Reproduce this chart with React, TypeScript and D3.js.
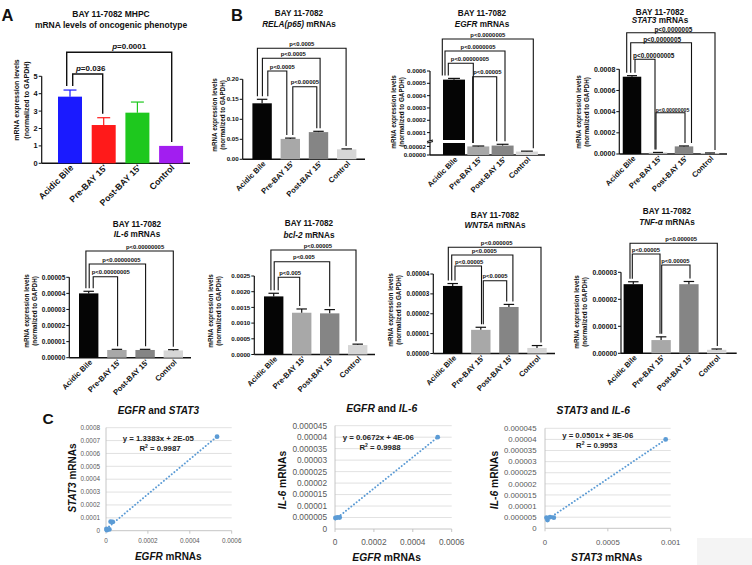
import React from "react";
import * as d3 from "d3";

const FONT = "'Liberation Sans', Arial, sans-serif";

const groups = ["Acidic Bile", "Pre-BAY 15'", "Post-BAY 15'", "Control"];
const grays = ["#050505", "#a8a8a8", "#858585", "#d6d6d6"];

// ---------- Panel A
const aValues = [3.83, 2.2, 2.91, 1.0];
const aErrors = [0.38, 0.42, 0.61, 0];
const aTicks = [0, 1, 2, 3, 4, 5];
const aColors = ["#1a1aff", "#ff1a1a", "#1ec81e", "#a21ef0"];
const aPairs = [[0, 1], [0, 3]];
const aP = ["p=0.036", "p=0.0001"];

// ---------- RELA(p65)
const relaValues = [0.14, 0.051, 0.068, 0.025];
const relaErrors = [0.01, 0.002, 0.002, 0.001];
const relaTicks = [0, 0.05, 0.1, 0.15, 0.2];
const relaPairs = [[0, 3], [0, 2], [0, 1], [1, 2]];
const relaP = ["p<0.0005", "p<0.0005", "p<0.0005", "p<0.00005"];

// ---------- EGFR (broken axis)
const egfrValues = [0.00053, 0.00002, 0.000022, 0.000008];
const egfrErrors = [0.00001, 0.000001, 0.000003, 0.000001];
const egfrHighTicks = [0.0001, 0.0002, 0.0003, 0.0004, 0.0005, 0.0006];
const egfrHighLabels = ["0.0001", "0.0002", "0.0003", "0.0004", "0.0005", "0.0006"];
const egfrLowTicks = [0, 0.00002];
const egfrLowLabels = ["0.00000", "0.00002"];
const egfrPairs = [[0, 3], [0, 2], [0, 1], [1, 2]];
const egfrP = ["p<0.0000005", "p<0.0000005", "p<0.00000005", "p<0.00005"];

// ---------- STAT3
const stat3Values = [0.00073, 0.000012, 0.000072, 0.000008];
const stat3Errors = [0.00001, 0.000003, 0.000004, 0.000002];
const stat3Ticks = [0, 0.0002, 0.0004, 0.0006, 0.0008];
const stat3Pairs = [[0, 3], [0, 2], [0, 1], [1, 2]];
const stat3P = ["p<0.0000005", "p<0.0000005", "p<0.00000005", "p<0.00000005"];

// ---------- IL-6
const il6Values = [0.00004, 0.0000048, 0.0000048, 0.0000045];
const il6Errors = [0.0000013, 0.0000004, 0.0000004, 0.0000005];
const il6Ticks = [0, 0.00001, 0.00002, 0.00003, 0.00004, 0.00005];
const il6Pairs = [[0, 3], [0, 2], [0, 1]];
const il6P = ["p<0.00000005", "p<0.00000005", "p<0.00000005"];

// ---------- bcl-2
const bclValues = [0.00185, 0.00133, 0.00131, 0.0003];
const bclErrors = [0.0001, 0.00012, 0.00012, 0.00003];
const bclTicks = [0, 0.0005, 0.001, 0.0015, 0.002, 0.0025];
const bclPairs = [[0, 3], [0, 2], [0, 1]];
const bclP = ["p<0.00005", "p<0.005", "p<0.005"];

// ---------- WNT5A
const wntValues = [0.000034, 0.0000119, 0.0000234, 0.0000028];
const wntErrors = [0.0000012, 0.0000013, 0.0000013, 0.0000012];
const wntTicks = [0, 0.00001, 0.00002, 0.00003, 0.00004];
const wntPairs = [[0, 3], [0, 2], [0, 1], [1, 2]];
const wntP = ["p<0.000005", "p<0.0005", "p<0.00005", "p<0.0005"];

// ---------- TNF-α
const tnfValues = [0.0000256, 0.0000049, 0.0000256, 0.0000013];
const tnfErrors = [0.0000009, 0.0000012, 0.000001, 0.0000003];
const tnfTicks = [0, 0.00001, 0.00002, 0.00003];
const tnfPairs = [[0, 3], [0, 1], [1, 2]];
const tnfP = ["p<0.000005", "p<0.00005", "p<0.00005"];

// ---------- Scatter data
const s1Points = [[0.00053, 0.00073], [0.000022, 0.00007], [0.000032, 0.000068], [0.000002, 0.000014], [0.000004, 0.000004], [0.000016, 0.00001]];
const s1XTicks = [0, 0.0002, 0.0004, 0.0006];
const s1YTicks = [0, 0.0001, 0.0002, 0.0003, 0.0004, 0.0005, 0.0006, 0.0007, 0.0008];
const s2Points = [[0.000528, 0.00004], [0.000002, 0.0000048], [0.000012, 0.000005], [0.000024, 0.000005]];
const s2XTicks = [0, 0.0002, 0.0004, 0.0006];
const s2YTicks = [0, 0.000005, 0.00001, 0.000015, 0.00002, 0.000025, 0.00003, 0.000035, 0.00004, 0.000045];
const s3Points = [[0.00096, 0.00004], [0.00002, 0.0000037], [0.000012, 0.0000048], [0.00004, 0.000005], [0.00007, 0.0000048]];
const s3XTicks = [0, 0.0005, 0.001];
const s3YTicks = [0, 0.000005, 0.00001, 0.000015, 0.00002, 0.000025, 0.00003, 0.000035, 0.00004, 0.000045];

const numLabel = (v: number) => (v === 0 ? "0" : String(+v.toFixed(7)));

type BrL = { top: number; dl: number; dr: number; anchor: "start" | "middle"; tx: number; fs?: number };

function BarPanel({ c }: { c: any }) {
  const L = c.L;
  const x = d3.scalePoint<string>().domain(groups).range([L.ax + L.c0, L.ax + L.c0 + 3 * L.step]);
  const ymax = c.brk ? c.brk.hiTicks[c.brk.hiTicks.length - 1] : c.ticks[c.ticks.length - 1];
  const yHi = d3.scaleLinear().domain([c.brk ? c.brk.hiMin : 0, ymax]).range([c.brk ? c.brk.hiBottom : L.y0, L.yTop]);
  const yLo = c.brk ? d3.scaleLinear().domain([0, c.brk.lowMax]).range([L.y0, c.brk.lowTop]) : null;
  const Y = (v: number) => (c.brk && v <= c.brk.lowMax ? (yLo as any)(v) : yHi(v));
  const bw = L.bw;
  const ink = "#111";
  const ticks: { v: number; y: number; s: string }[] = [];
  if (c.brk) {
    c.brk.lowTicks.forEach((v: number, i: number) => ticks.push({ v, y: (yLo as any)(v), s: c.brk.lowLabels[i] }));
    c.brk.hiTicks.forEach((v: number, i: number) => ticks.push({ v, y: yHi(v), s: c.brk.hiLabels[i] }));
  } else {
    c.ticks.forEach((v: number) => ticks.push({ v, y: yHi(v), s: c.fmt(v) }));
  }
  return (
    <g fontFamily={FONT} fill={ink}>
      <text x={L.tx} y={L.t1} textAnchor="middle" fontSize={L.tfs} fontWeight="bold">{c.title1}</text>
      <text x={L.tx} y={L.t2} textAnchor="middle" fontSize={L.tfs} fontWeight="bold">
        {c.title2.map((t: any, i: number) => (
          <tspan key={i} fontStyle={t[1] ? "italic" : "normal"}>{t[0]}</tspan>
        ))}
      </text>
      <g transform={`translate(${L.ylx},${L.yly}) rotate(-90)`}>
        <text x={0} y={0} textAnchor="middle" fontSize={L.ylfs} fontWeight="bold">mRNA expression levels</text>
        <text x={0} y={L.ylgap} textAnchor="middle" fontSize={L.ylfs} fontWeight="bold">(normalized to GAPDH)</text>
      </g>
      {c.brk ? (
        <g stroke={ink} strokeWidth={1.2}>
          <line x1={L.ax} x2={L.ax} y1={L.y0} y2={c.brk.lowTop - 1} />
          <line x1={L.ax} x2={L.ax} y1={c.brk.hiBottom + 1} y2={L.yTop} />
          <line x1={L.ax - 3} x2={L.ax + 3} y1={c.brk.lowTop} y2={c.brk.lowTop - 1.5} />
          <line x1={L.ax - 3} x2={L.ax + 3} y1={c.brk.hiBottom + 1.5} y2={c.brk.hiBottom} />
        </g>
      ) : (
        <line x1={L.ax} x2={L.ax} y1={L.y0} y2={L.yTop} stroke={ink} strokeWidth={1.2} />
      )}
      <line x1={L.ax} x2={L.xEnd} y1={L.y0} y2={L.y0} stroke={ink} strokeWidth={1.4} />
      {ticks.map((t, i) => (
        <g key={i}>
          <line x1={L.ax - 3} x2={L.ax} y1={t.y} y2={t.y} stroke={ink} strokeWidth={1} />
          <text x={L.ax - 4} y={t.y + L.kfs * 0.35} textAnchor="end" fontSize={L.kfs} fontWeight="bold">{t.s}</text>
        </g>
      ))}
      {c.values.map((v: number, i: number) => {
        const cx = x(groups[i]) as number;
        const col = c.colors[i];
        const e = c.errors[i];
        const errCol = c.errColor === "bar" ? col : "#111";
        const parts =
          c.brk && v > c.brk.lowMax
            ? [
                [c.brk.lowTop, L.y0],
                [Y(v), c.brk.hiBottom],
              ]
            : [[Y(v), L.y0]];
        return (
          <g key={i}>
            {parts.map((p: number[], k: number) => (
              <rect key={k} x={cx - bw / 2} y={p[0]} width={bw} height={p[1] - p[0]} fill={col} />
            ))}
            {e > 0 && (
              <g stroke={errCol} strokeWidth={1.2}>
                <line x1={cx} x2={cx} y1={Y(v)} y2={Y(v + e)} />
                <line x1={cx - bw * 0.27} x2={cx + bw * 0.27} y1={Y(v + e)} y2={Y(v + e)} />
              </g>
            )}
          </g>
        );
      })}
      {groups.map((g) => (
        <text
          key={g}
          transform={`translate(${(x(g) as number) + L.xlx},${L.y0 + L.xly}) rotate(-45)`}
          textAnchor="end"
          fontSize={L.xfs}
          fontWeight="bold"
        >
          {g}
        </text>
      ))}
      {c.pairs.map((pr: number[], i: number) => {
        const b: BrL = c.brs[i];
        const la = (x(groups[pr[0]]) as number) + b.dl;
        const ra = (x(groups[pr[1]]) as number) + b.dr;
        const lb = Y(c.values[pr[0]] + c.errors[pr[0]]) - L.gap;
        const rb = Y(c.values[pr[1]] + c.errors[pr[1]]) - L.gap;
        const tx = b.anchor === "middle" ? (la + ra) / 2 + b.tx : la + b.tx;
        const lab: string = c.plabels[i];
        return (
          <g key={i}>
            <path d={`M${la},${lb}V${b.top}H${ra}V${rb}`} fill="none" stroke={ink} strokeWidth={L.bsw} />
            <text x={tx} y={b.top - L.lgap} textAnchor={b.anchor} fontSize={b.fs || L.bfs} fontWeight="bold">
              {lab.startsWith("p=") ? (
                <>
                  <tspan fontStyle="italic">p</tspan>
                  {lab.slice(1)}
                </>
              ) : (
                lab
              )}
            </text>
          </g>
        );
      })}
    </g>
  );
}

function Scatter({ c }: { c: any }) {
  const L = c.L;
  const x = d3.scaleLinear().domain([0, c.xTicks[c.xTicks.length - 1]]).range([L.x0, L.x1]);
  const y = d3.scaleLinear().domain([0, c.yTicks[c.yTicks.length - 1]]).range([L.y0, L.y1]);
  const pts: number[][] = c.pts;
  const mx = d3.mean(pts, (p) => p[0]) as number;
  const my = d3.mean(pts, (p) => p[1]) as number;
  const sxy = d3.sum(pts, (p) => (p[0] - mx) * (p[1] - my));
  const sxx = d3.sum(pts, (p) => (p[0] - mx) * (p[0] - mx));
  const slope = sxy / sxx;
  const icpt = my - slope * mx;
  const [xmin, xmax] = d3.extent(pts, (p) => p[0]) as [number, number];
  const trend = d3.line()([
    [x(xmin), y(icpt + slope * xmin)],
    [x(xmax), y(icpt + slope * xmax)],
  ]) as string;
  const blue = "#5b9bd5";
  const grayTxt = "#595959";
  return (
    <g fontFamily={FONT}>
      <text x={L.tx} y={L.ty} textAnchor="middle" fontSize={L.tfs} fontWeight="bold" fill="#111">
        <tspan fontStyle="italic">{c.gx}</tspan> and <tspan fontStyle="italic">{c.gy}</tspan>
      </text>
      {c.yTicks.map((v: number, i: number) => (
        <g key={i}>
          {i > 0 && <line x1={L.x0} x2={L.x1} y1={y(v)} y2={y(v)} stroke="#d9d9d9" strokeWidth={0.8} />}
          <text x={L.x0 - L.ylg} y={y(v) + L.kfs * 0.35} textAnchor="end" fontSize={L.kfs} fill={grayTxt}>
            {numLabel(v)}
          </text>
        </g>
      ))}
      <line x1={L.x0} x2={L.x0} y1={L.y0} y2={L.y1} stroke="#bfbfbf" strokeWidth={0.9} />
      <line x1={L.x0} x2={L.x1} y1={L.y0} y2={L.y0} stroke="#bfbfbf" strokeWidth={0.9} />
      {c.xTicks.map((v: number, i: number) => (
        <g key={i}>
          <line x1={x(v)} x2={x(v)} y1={L.y0} y2={L.y0 + 3} stroke="#bfbfbf" strokeWidth={0.9} />
          <text x={x(v)} y={L.xly} textAnchor="middle" fontSize={L.kfs} fill={grayTxt}>
            {numLabel(v)}
          </text>
        </g>
      ))}
      <path d={trend} fill="none" stroke={blue} strokeWidth={1.9} strokeDasharray="0.1 3.3" strokeLinecap="round" />
      {pts.map((p, i) => (
        <circle key={i} cx={x(p[0])} cy={y(p[1])} r={2.4} fill={blue} />
      ))}
      <text x={L.ex} y={L.ey} textAnchor="middle" fontSize={L.efs} fontWeight="bold" fill="#222">{c.eq}</text>
      <text x={L.rx} y={L.ey + L.efs * 1.3} textAnchor="middle" fontSize={L.efs} fontWeight="bold" fill="#222">
        R<tspan baselineShift="super" fontSize={L.efs * 0.65}>2</tspan> = {c.r2}
      </text>
      <text x={L.xtx} y={L.xty} textAnchor="middle" fontSize={L.afs} fontWeight="bold" fill="#111">
        <tspan fontStyle="italic">{c.gx}</tspan> mRNAs
      </text>
      <text transform={`translate(${L.ytx},${L.yty}) rotate(-90)`} textAnchor="middle" fontSize={L.afs} fontWeight="bold" fill="#111">
        <tspan fontStyle="italic">{c.gy}</tspan> mRNAs
      </text>
    </g>
  );
}

const base = { bw: 19.4, c0: 19.4, step: 28.2, tfs: 8.2, ylfs: 6.3, ylgap: 8, kfs: 6.2, xfs: 7.6, xlx: 4, xly: 5, bfs: 5.9, bsw: 1.1, gap: 3, lgap: 2.5 };

const panels: any[] = [
  {
    values: aValues, errors: aErrors, colors: aColors, errColor: "bar", ticks: aTicks, fmt: d3.format("d"),
    pairs: aPairs, plabels: aP, title1: "BAY 11-7082 MHPC", title2: [["mRNA levels of oncogenic phenotype", false]],
    L: { ...base, ax: 41.7, y0: 163.3, yTop: 76.3, c0: 28.3, step: 33.7, bw: 24, xEnd: 190, tx: 111, t1: 17, t2: 28, tfs: 8.5,
      ylx: 19, yly: 100, ylfs: 7, ylgap: 10, kfs: 7.4, xfs: 8.8, bfs: 8, lgap: 3, gap: 4, bsw: 1.4 },
    brs: [
      { top: 74, dl: 2.7, dr: -1, anchor: "middle", tx: 3 },
      { top: 52.3, dl: -3.3, dr: 0.6, anchor: "middle", tx: 10 },
    ],
  },
  {
    values: relaValues, errors: relaErrors, colors: grays, ticks: relaTicks, fmt: d3.format(".2f"),
    pairs: relaPairs, plabels: relaP, title1: "BAY 11-7082", title2: [["RELA(p65)", true], [" mRNAs", false]],
    L: { ...base, ax: 242.7, y0: 159.3, yTop: 79.3, xEnd: 365, tx: 299, t1: 16, t2: 26.5, ylx: 216.5, yly: 115 },
    brs: [
      { top: 48.3, dl: -4.7, dr: -0.6, anchor: "middle", tx: 0 },
      { top: 58.3, dl: 0.3, dr: 1.6, anchor: "middle", tx: 2 },
      { top: 71, dl: 5.7, dr: -3.5, anchor: "start", tx: 2 },
      { top: 86.7, dl: 2.5, dr: -1.7, anchor: "middle", tx: 0 },
    ],
  },
  {
    values: egfrValues, errors: egfrErrors, colors: grays, ticks: [],
    brk: { lowMax: 0.000028, lowTop: 143, hiMin: 0.00004, hiBottom: 140, lowTicks: egfrLowTicks, lowLabels: egfrLowLabels, hiTicks: egfrHighTicks, hiLabels: egfrHighLabels },
    pairs: egfrPairs, plabels: egfrP, title1: "BAY 11-7082", title2: [["EGFR", true], [" mRNAs", false]],
    L: { ...base, ax: 430, y0: 155, yTop: 71, c0: 24, step: 24.3, bw: 22, xEnd: 545, tx: 482, t1: 16, t2: 26.5, ylx: 395.5, yly: 112 },
    brs: [
      { top: 39, dl: -11.7, dr: 6.4, anchor: "middle", tx: 0 },
      { top: 51, dl: -9, dr: 2.4, anchor: "middle", tx: 3 },
      { top: 63.3, dl: -5.7, dr: -5, anchor: "start", tx: 2.5 },
      { top: 76.7, dl: -5.6, dr: -5.9, anchor: "start", tx: 0.5 },
    ],
  },
  {
    values: stat3Values, errors: stat3Errors, colors: grays, ticks: stat3Ticks, fmt: d3.format(".4f"),
    pairs: stat3Pairs, plabels: stat3P, title1: "BAY 11-7082", title2: [["STAT3", true], [" mRNAs", false]],
    L: { ...base, ax: 619.3, y0: 154, yTop: 69.3, c0: 12.7, step: 26, bw: 18.5, xEnd: 727, tx: 660, t1: 14.5, t2: 23.3, kfs: 7, ylx: 580.5, yly: 112, bfs: 6.4, lgap: 1 },
    brs: [
      { top: 32.7, dl: -5.3, dr: 5, anchor: "middle", tx: 2.5 },
      { top: 42.7, dl: -1.3, dr: 7.5, anchor: "middle", tx: 1 },
      { top: 59.3, dl: 3, dr: -3, anchor: "start", tx: -2 },
      { top: 112.7, dl: -2, dr: 1, anchor: "middle", tx: 2, fs: 5.2 },
    ],
  },
  {
    values: il6Values, errors: il6Errors, colors: grays, ticks: il6Ticks, fmt: d3.format(".5f"),
    pairs: il6Pairs, plabels: il6P, title1: "BAY 11-7082", title2: [["IL-6", true], [" mRNAs", false]],
    L: { ...base, ax: 69.3, y0: 357.7, yTop: 277.3, xEnd: 191, tx: 137, t1: 227, t2: 237, kfs: 6.5, ylx: 29, yly: 311 },
    brs: [
      { top: 251, dl: -2.8, dr: 0, anchor: "middle", tx: 15.5 },
      { top: 264, dl: 0.5, dr: 0.5, anchor: "middle", tx: 4 },
      { top: 276.7, dl: 4.5, dr: 0.7, anchor: "start", tx: -1.5 },
    ],
  },
  {
    values: bclValues, errors: bclErrors, colors: grays, ticks: bclTicks, fmt: d3.format(".4f"),
    pairs: bclPairs, plabels: bclP, title1: "BAY 11-7082", title2: [["bcl-2", true], [" mRNAs", false]],
    L: { ...base, ax: 254.3, y0: 354.5, yTop: 276, step: 28, xEnd: 375, tx: 309, t1: 226, t2: 237.5, ylx: 212.5, yly: 311 },
    brs: [
      { top: 250, dl: -2.8, dr: -1.7, anchor: "middle", tx: 4.5 },
      { top: 261.7, dl: 0.5, dr: 0, anchor: "middle", tx: 2 },
      { top: 277.3, dl: 4.5, dr: -2, anchor: "start", tx: 1 },
    ],
  },
  {
    values: wntValues, errors: wntErrors, colors: grays, ticks: wntTicks, fmt: d3.format(".5f"),
    pairs: wntPairs, plabels: wntP, title1: "BAY 11-7082", title2: [["WNT5A", true], [" mRNAs", false]],
    L: { ...base, ax: 433.3, y0: 353.5, yTop: 274, step: 28.1, xEnd: 555, tx: 495, t1: 218.3, t2: 227.5, kfs: 6.3, ylx: 392.5, yly: 310 },
    brs: [
      { top: 247.3, dl: -4.4, dr: 4, anchor: "middle", tx: 2 },
      { top: 255, dl: -1, dr: 4, anchor: "middle", tx: 2 },
      { top: 266, dl: 2.3, dr: 0.7, anchor: "start", tx: 0 },
      { top: 280.7, dl: 2.5, dr: -2.2, anchor: "middle", tx: 0 },
    ],
  },
  {
    values: tnfValues, errors: tnfErrors, colors: grays, ticks: tnfTicks, fmt: d3.format(".5f"),
    pairs: tnfPairs, plabels: tnfP, title1: "BAY 11-7082", title2: [["TNF-α", true], ["  mRNAs", false]],
    L: { ...base, ax: 621, y0: 353.3, yTop: 272.3, c0: 12.3, step: 27.8, xEnd: 736.7, tx: 667, t1: 214, t2: 225, kfs: 6.8, ylx: 579, yly: 312 },
    brs: [
      { top: 243.3, dl: -3.3, dr: 0.6, anchor: "middle", tx: 7.5 },
      { top: 254, dl: -1, dr: -1.1, anchor: "start", tx: -0.5 },
      { top: 265, dl: 0.6, dr: 1.1, anchor: "start", tx: -0.5 },
    ],
  },
];

const scatters: any[] = [
  {
    pts: s1Points, xTicks: s1XTicks, yTicks: s1YTicks, gx: "EGFR", gy: "STAT3", eq: "y = 1.3383x + 2E-05", r2: "0.9987",
    L: { x0: 106, x1: 231.7, y0: 530.7, y1: 427.7, kfs: 6.4, ylg: 6, xly: 542.5, tx: 158.3, ty: 414, tfs: 10, ex: 158.3, ey: 441, rx: 160, efs: 7.8,
      xtx: 168.3, xty: 559.5, ytx: 75.5, yty: 478, afs: 10 },
  },
  {
    pts: s2Points, xTicks: s2XTicks, yTicks: s2YTicks, gx: "EGFR", gy: "IL-6", eq: "y = 0.0672x + 4E-06", r2: "0.9988",
    L: { x0: 335, x1: 451.7, y0: 529, y1: 425.7, kfs: 8.3, ylg: 8, xly: 544.5, tx: 381.7, ty: 412, tfs: 10.3, ex: 378.3, ey: 440.3, rx: 380, efs: 7.8,
      xtx: 386.7, xty: 560.5, ytx: 285.5, yty: 480, afs: 10.3 },
  },
  {
    pts: s3Points, xTicks: s3XTicks, yTicks: s3YTicks, gx: "STAT3", gy: "IL-6", eq: "y = 0.0501x + 3E-06", r2: "0.9953",
    L: { x0: 545, x1: 670.7, y0: 528.3, y1: 428.3, kfs: 7.8, ylg: 8.5, xly: 544.5, tx: 593.3, ty: 413.5, tfs: 10.3, ex: 597.7, ey: 438, rx: 596.7, efs: 7.8,
      xtx: 606.7, xty: 560.5, ytx: 498, yty: 480, afs: 10.3 },
  },
];

export default function App() {
  return (
    <svg width={752} height={565} viewBox="0 0 752 565" style={{ position: "absolute", left: 0, top: 0, background: "#fff" }}>
      <rect x={0} y={0} width={752} height={565} fill="#fff" />
      <rect x={697} y={538} width={55} height={27} fill="#f4f4f4" />
      <g fontFamily={FONT} fontWeight="bold" fill="#111">
        <text x={1.5} y={20.5} fontSize={16.5}>A</text>
        <text x={231} y={20.5} fontSize={16.5}>B</text>
        <text x={42.5} y={424} fontSize={15.5}>C</text>
      </g>
      {panels.map((p, i) => (
        <BarPanel key={i} c={p} />
      ))}
      {scatters.map((s, i) => (
        <Scatter key={i} c={s} />
      ))}
    </svg>
  );
}
